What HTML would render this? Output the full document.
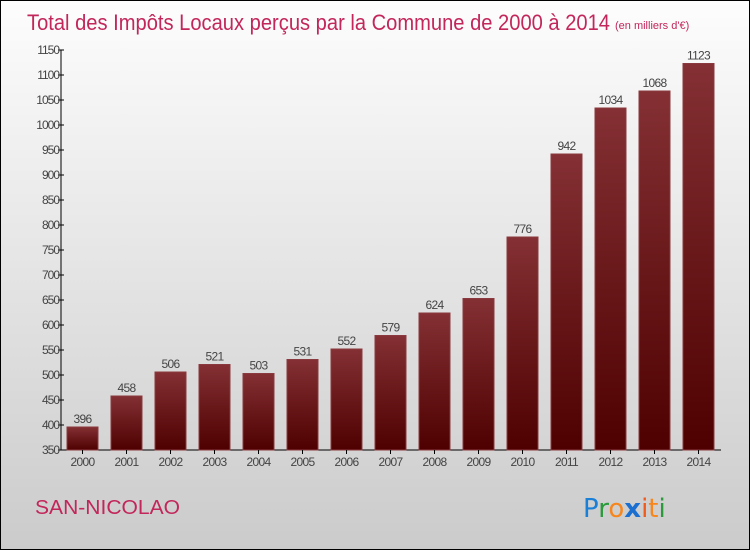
<!DOCTYPE html>
<html><head><meta charset="utf-8"><style>
body{margin:0;}
svg{display:block;font-family:"Liberation Sans",sans-serif;}
</style></head><body>
<svg width="750" height="550">
<defs>
<linearGradient id="bg" x1="0" y1="0" x2="0" y2="1"><stop offset="0" stop-color="#fdfdfd"/><stop offset="1" stop-color="#cbcbcb"/></linearGradient>
<linearGradient id="bar" x1="0" y1="0" x2="0" y2="1"><stop offset="0" stop-color="#843034"/><stop offset="1" stop-color="#4e0000"/></linearGradient>
</defs>
<rect x="0.5" y="0.5" width="749" height="549" fill="url(#bg)" stroke="#000"/>
<text x="27" y="30" font-size="22" fill="#c2265a" textLength="583" lengthAdjust="spacingAndGlyphs">Total des Impôts Locaux perçus par la Commune de 2000 à 2014</text>
<text x="615" y="29" font-size="11" fill="#c2265a">(en milliers d'€)</text>
<g id="plot"></g>
<text x="35" y="514" font-size="20" fill="#c2265a" textLength="145" lengthAdjust="spacingAndGlyphs">SAN-NICOLAO</text>
<g font-size="26" font-family="'DejaVu Sans',sans-serif">
<text x="583" y="517"><tspan fill="#1a7fd6">P</tspan><tspan fill="#2a9a3a">r</tspan><tspan fill="#f7861c">o</tspan><tspan fill="#1a6fd0" font-weight="bold">x</tspan><tspan fill="#f05a1a">i</tspan><tspan fill="#f7861c">t</tspan><tspan fill="#2a9a3a">i</tspan></text>
</g>
</svg>
<script>
const years=["2000","2001","2002","2003","2004","2005","2006","2007","2008","2009","2010","2011","2012","2013","2014"];
const values=[396,458,506,521,503,531,552,579,624,653,776,942,1034,1068,1123];
const ticks=[350,400,450,500,550,600,650,700,750,800,850,900,950,1000,1050,1100,1150];
const NS="http://www.w3.org/2000/svg";
const g=document.getElementById('plot');
const y=v=>450-(v-350)*0.5;
const x=i=>82.5+i*44;
function mk(t,a,p){const e=document.createElementNS(NS,t);for(const k in a)e.setAttribute(k,a[k]);(p||g).appendChild(e);return e;}
let ax=mk('line',{x1:61,y1:50,x2:61,y2:450,stroke:'#000'});


let bx=mk('line',{x1:61,y1:450,x2:721,y2:450,stroke:'#000'});


ticks.forEach(t=>{
 let l=mk('line',{x1:58,x2:64,y1:y(t),y2:y(t),stroke:'#000'});
 
 
 let tx=mk('text',{x:59,y:y(t)+4,'font-size':12,fill:'#444','text-anchor':'end','letter-spacing':'-1'});
 tx.textContent=t;
 
 
});
years.forEach((yr,i)=>{
 let r=mk('rect',{x:x(i)-15.5,y:y(values[i]),width:31,height:450-y(values[i]),fill:'url(#bar)',stroke:'#8a3a3e','stroke-width':1});
 
 
 let tk=mk('line',{x1:x(i),x2:x(i),y1:450,y2:454,stroke:'#000'});
 
 
 let lb=mk('text',{x:x(i),y:466,'font-size':12,fill:'#444','text-anchor':'middle','letter-spacing':'-0.7'});
 lb.textContent=yr;
 
 
 let vl=mk('text',{x:x(i),y:y(values[i])-4,'font-size':12,fill:'#444','text-anchor':'middle','letter-spacing':'-0.7'});
 vl.textContent=values[i];
 
 
});
</script>
</body></html>
